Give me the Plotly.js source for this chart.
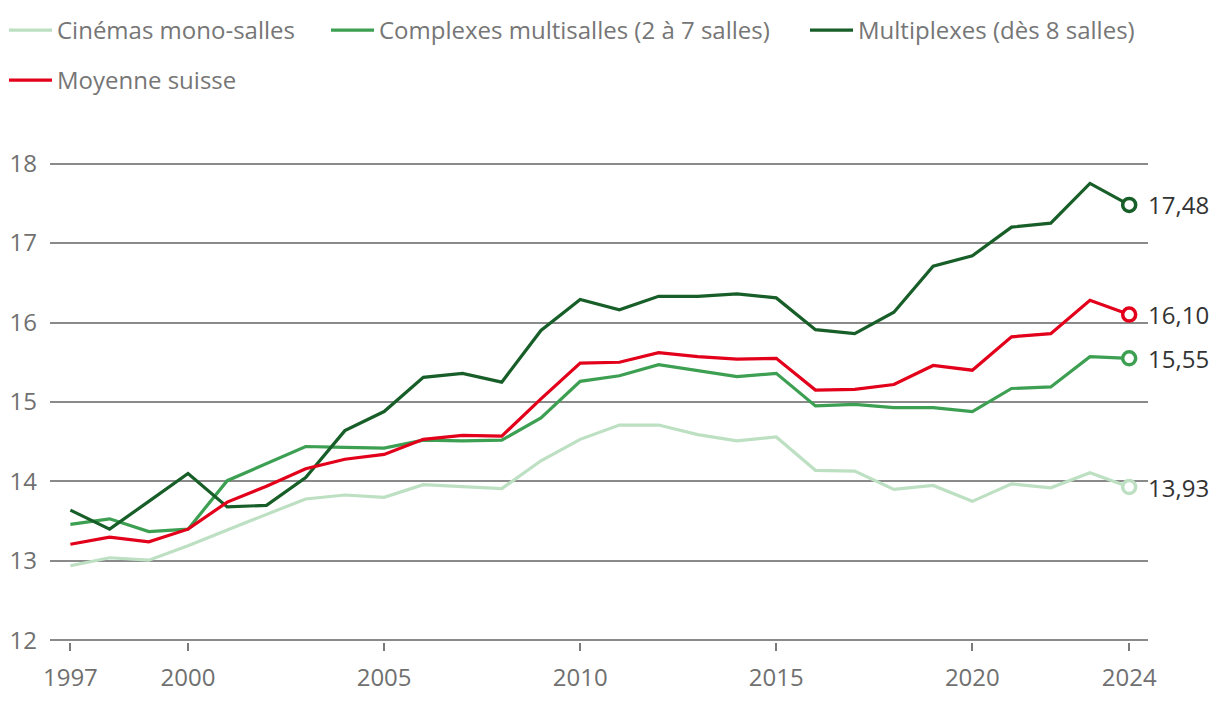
<!DOCTYPE html>
<html>
<head>
<meta charset="utf-8">
<script src="https://cdn.plot.ly/plotly-3.0.1.min.js"></script>
<style>html,body{margin:0;padding:0;background:#fff;}#chart{width:1220px;height:706px;}</style>
</head>
<body>
<div id="chart"></div>
<script>
var years = [1997,1998,1999,2000,2001,2002,2003,2004,2005,2006,2007,2008,2009,2010,2011,2012,2013,2014,2015,2016,2017,2018,2019,2020,2021,2022,2023,2024];
var mono = [12.94,13.04,13.01,13.19,13.39,13.59,13.78,13.83,13.80,13.96,13.93,13.91,14.26,14.53,14.71,14.71,14.59,14.51,14.56,14.14,14.13,13.90,13.95,13.75,13.97,13.92,14.11,13.93];
var complexes = [13.46,13.53,13.37,13.40,14.01,14.23,14.44,14.43,14.42,14.52,14.51,14.52,14.80,15.26,15.33,15.47,15.40,15.32,15.36,14.95,14.97,14.93,14.93,14.88,15.17,15.19,15.57,15.55];
var multiplexes = [13.64,13.40,13.75,14.10,13.68,13.70,14.05,14.64,14.88,15.31,15.36,15.25,15.90,16.29,16.16,16.33,16.33,16.36,16.31,15.91,15.86,16.13,16.71,16.84,17.20,17.25,17.75,17.48];
var moyenne = [13.21,13.30,13.24,13.40,13.74,13.94,14.16,14.28,14.34,14.53,14.58,14.57,15.04,15.49,15.50,15.62,15.57,15.54,15.55,15.15,15.16,15.22,15.46,15.40,15.82,15.86,16.28,16.10];
var seriesNames = ['Cinémas mono-salles','Complexes multisalles (2 à 7 salles)','Multiplexes (dès 8 salles)','Moyenne suisse'];
var seriesColors = ['#bde0c3','#3c9f51','#175e28','#e2001a'];
var xTickVals = [1997,2000,2005,2010,2015,2020,2024];
var yTickVals = [12,13,14,15,16,17,18];

var seriesData = [mono, complexes, multiplexes, moyenne];
var legendIds = ['legend','legend2','legend3','legend4'];
var traces = [];
var annotations = [];
var last = years.length - 1;
seriesData.forEach(function(vals, i){
  traces.push({
    type:'scatter', mode:'lines', x:years, y:vals, name:seriesNames[i],
    line:{color:seriesColors[i], width:3.2}, legend:legendIds[i], hoverinfo:'skip'
  });
});
seriesData.forEach(function(vals, i){
  traces.push({
    type:'scatter', mode:'markers', x:[years[last]], y:[vals[last]], showlegend:false,
    marker:{symbol:'circle', size:13, color:'#ffffff', line:{color:seriesColors[i], width:3.5}},
    cliponaxis:false, hoverinfo:'skip'
  });
  annotations.push({
    x:years[last], y:vals[last], xref:'x', yref:'y', text:vals[last].toFixed(2).replace('.', ','),
    showarrow:false, xanchor:'left', yanchor:'middle', xshift:17,
    font:{family:'Open Sans, sans-serif', size:24, color:'#333333'}
  });
});

var legendFont = {family:'Open Sans, sans-serif', size:24, color:'#767676'};
function mkLegend(xpx, ypx){
  return {orientation:'h', xref:'container', yref:'container', x:xpx/1220, y:1-ypx/706,
    xanchor:'left', yanchor:'top', font:legendFont, itemwidth:43, bgcolor:'rgba(0,0,0,0)', borderwidth:0};
}

var layout = {
  width:1220, height:706,
  margin:{l:49.5, r:71.5, t:162.4, b:64.4, pad:0},
  paper_bgcolor:'#ffffff', plot_bgcolor:'#ffffff',
  font:{family:'Open Sans, sans-serif', size:24, color:'#707070'},
  showlegend:true,
  legend: mkLegend(4, 8),
  legend2: mkLegend(326, 8),
  legend3: mkLegend(805, 8),
  legend4: mkLegend(4, 58),
  xaxis:{range:[1996.48, 2024.48], tickvals:xTickVals, ticktext:xTickVals.map(String),
    ticks:'outside', ticklen:8, tickwidth:2, tickcolor:'#7a7a7a',
    showgrid:false, zeroline:false, showline:false,
    ticklabelstandoff:6, fixedrange:true,
    tickfont:{family:'Open Sans, sans-serif', size:24, color:'#707070'}},
  yaxis:{range:[11.98,18.02], tickvals:yTickVals, ticktext:yTickVals.map(String),
    showgrid:true, gridcolor:'#8a8a8a', gridwidth:2, zeroline:false, showline:false,
    ticks:'', ticklabelstandoff:12, fixedrange:true,
    tickfont:{family:'Open Sans, sans-serif', size:24, color:'#707070'}},
  annotations:annotations
};
Plotly.newPlot('chart', traces, layout, {displayModeBar:false});
</script>
</body>
</html>
